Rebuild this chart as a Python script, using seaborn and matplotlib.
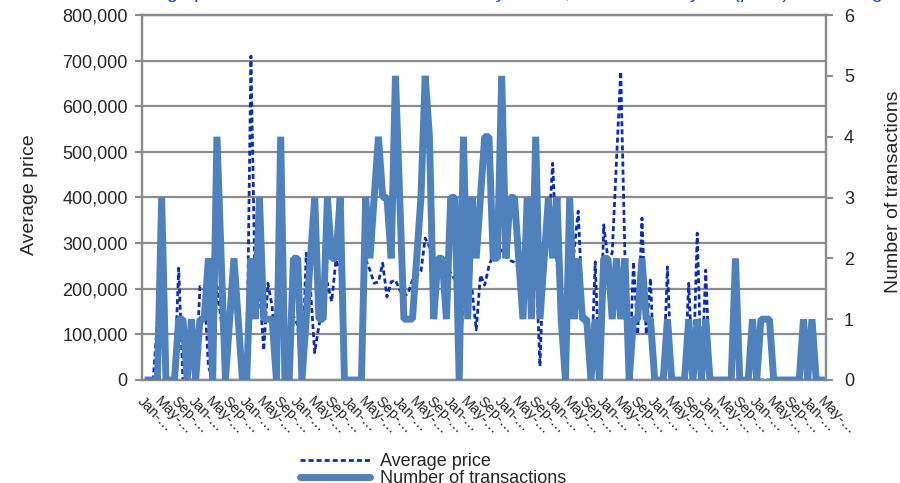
import numpy as np
import pandas as pd
import matplotlib
matplotlib.use("Agg")
import matplotlib.pyplot as plt
from matplotlib.ticker import FuncFormatter, FixedLocator
from matplotlib.lines import Line2D
import seaborn as sns

# ---------------- data ----------------
# monthly series, Jan (year 0) .. May (year 13): 161 months
avg_price_k = [
    0, 0, 0, 130, 180, 0, 0, 0, 245, 0,
    0, 0, 0, 205, 200, 30, 0, 205, 130, 0,
    90, 200, 120, 0, 0, 710, 190, 205, 65, 212,
    160, 0, 200, 0, 0, 140, 120, 0, 278, 200,
    60, 120, 150, 212, 172, 263, 240, 0, 0, 0,
    0, 0, 265, 241, 212, 215, 256, 182, 215, 219,
    197, 183, 190, 219, 228, 238, 311, 292, 276, 255,
    240, 250, 235, 220, 0, 200, 170, 200, 110, 230,
    208, 250, 275, 280, 285, 270, 262, 258, 245, 235,
    255, 250, 270, 30, 310, 320, 475, 255, 150, 0,
    240, 280, 370, 160, 100, 0, 259, 0, 340, 265,
    278, 480, 676, 270, 0, 259, 100, 355, 100, 223,
    0, 0, 0, 248, 0, 0, 0, 0, 212, 0,
    322, 0, 241, 0, 0, 0, 0, 0, 0, 0,
    0, 0, 0, 0, 0, 0, 0, 0, 0, 0,
    0, 0, 0, 0, 0, 0, 0, 0, 0, 0, 0,
]
transactions = [
    0, 0, 0, 0, 3, 0, 0, 0, 1, 1,
    0, 1, 0, 1, 1, 2, 0, 4, 2, 0,
    1, 2, 1, 0, 0, 2, 1, 3, 1, 1,
    1, 0, 4, 0, 0, 2, 2, 0, 1, 2,
    3, 1, 1, 3, 2, 2, 3, 0, 0, 0,
    0, 0, 3, 2, 3, 4, 3, 3, 2, 5,
    3, 1, 1, 1, 2, 3, 5, 4, 1, 2,
    2, 1, 3, 3, 0, 4, 1, 3, 2, 3,
    4, 4, 2, 2, 5, 2, 3, 3, 2, 1,
    3, 1, 4, 1, 2, 3, 2, 3, 1, 0,
    3, 1, 2, 1, 1, 0, 1, 0, 2, 2,
    1, 2, 1, 2, 0, 1, 1, 2, 1, 1,
    0, 0, 0, 1, 0, 0, 0, 0, 1, 0,
    1, 0, 1, 0, 0, 0, 0, 0, 0, 2,
    0, 0, 0, 1, 0, 1, 1, 1, 0, 0,
    0, 0, 0, 0, 0, 1, 0, 1, 0, 0, 0,
]
label_months = ["Jan-…", "May-…", "Sep-…"]
n_labels = 41
price_ticks = [0, 100000, 200000, 300000, 400000, 500000, 600000, 700000, 800000]
count_ticks = [0, 1, 2, 3, 4, 5, 6]

df = pd.DataFrame({
    "month": np.arange(len(transactions)),
    "price": np.array(avg_price_k) * 1000.0,
    "count": transactions,
})
tick_labels = [label_months[k % 3] for k in range(n_labels)]

# ---------------- style ----------------
sns.set_style("white")
plt.rcParams["font.family"] = ["Liberation Sans", "DejaVu Sans"]

GRID = "#8c8c8c"
SOLID = "#4f81bd"
DOT = "#0b2db5"

fig = plt.figure(figsize=(9.0, 4.83), dpi=100)
ax = fig.add_axes([141.7 / 900, 1 - 380 / 483, (826 - 141.7) / 900, 365 / 483])
ax2 = ax.twinx()

sns.lineplot(data=df, x="month", y="price", ax=ax, color=DOT, linewidth=2.0,
             linestyle=(0, (1.8, 1.1)), legend=False, zorder=3)
sns.lineplot(data=df, x="month", y="count", ax=ax2, color=SOLID, linewidth=5.0,
             legend=False, solid_joinstyle="bevel", solid_capstyle="butt", zorder=3)

ax.set_xlim(-0.7, 160.3)
ax.set_ylim(0, 800000)
ax2.set_ylim(0, 6)

ax.yaxis.set_major_locator(FixedLocator(price_ticks))
ax.yaxis.set_major_formatter(FuncFormatter(lambda v, p: f"{int(v):,}"))
ax2.yaxis.set_major_locator(FixedLocator(count_ticks))

ax.yaxis.grid(True, color=GRID, linewidth=1.6)
ax.xaxis.grid(False)
ax.set_axisbelow(True)

for a in (ax, ax2):
    for s in a.spines.values():
        s.set_color(GRID)
        s.set_linewidth(1.6)
    a.set_xlabel("")

# x ticks: labels every 4 months, tick marks at category boundaries
ax.set_xticks(np.arange(0, 161, 4))
ax.set_xticklabels(tick_labels, rotation=-45, ha="left", va="top",
                   rotation_mode="anchor", fontsize=10.5)
ax.set_xticks(np.arange(3.5, 160, 4), minor=True)
ax.tick_params(axis="x", which="major", length=0, pad=10)
ax.tick_params(axis="x", which="minor", length=5, width=1.5, color=GRID, direction="out")
ax.tick_params(axis="y", length=5, width=1.5, color=GRID, labelsize=13, pad=5)
ax2.tick_params(axis="y", length=5, width=1.5, color=GRID, labelsize=13, pad=8)
ax2.tick_params(axis="x", length=0)

ax.set_ylabel("Average price", fontsize=14)
ax.yaxis.label.set(ha="center", va="center")
ax.yaxis.set_label_coords((30 - 141.7) / 684.3, 0.507)
ax2.set_ylabel("Number of transactions", fontsize=14, rotation=90)
ax2.yaxis.label.set(ha="center", va="center")
ax2.yaxis.set_label_coords((893 - 141.7) / 684.3, 0.516)

# title sits mostly above the visible canvas (only descenders show in the reference)
fig.text(0.555, 1.005, "Average price and number of transactions by month, Jan-05 to May-18 (price) and listing",
         color="#1f3fd0", fontsize=14, ha="center", va="baseline")

handles = [
    Line2D([], [], color=DOT, linewidth=2.0, linestyle=(0, (1.8, 1.1))),
    Line2D([], [], color=SOLID, linewidth=5.0),
]
fig.legend(handles, ["Average price", "Number of transactions"],
           loc="upper left", bbox_to_anchor=(300 / 900, 1 - 453 / 483),
           frameon=False, fontsize=13, handlelength=3.9, handletextpad=0.55,
           labelspacing=0.0, borderpad=0, borderaxespad=0)

fig.savefig("out.png", dpi=100)
